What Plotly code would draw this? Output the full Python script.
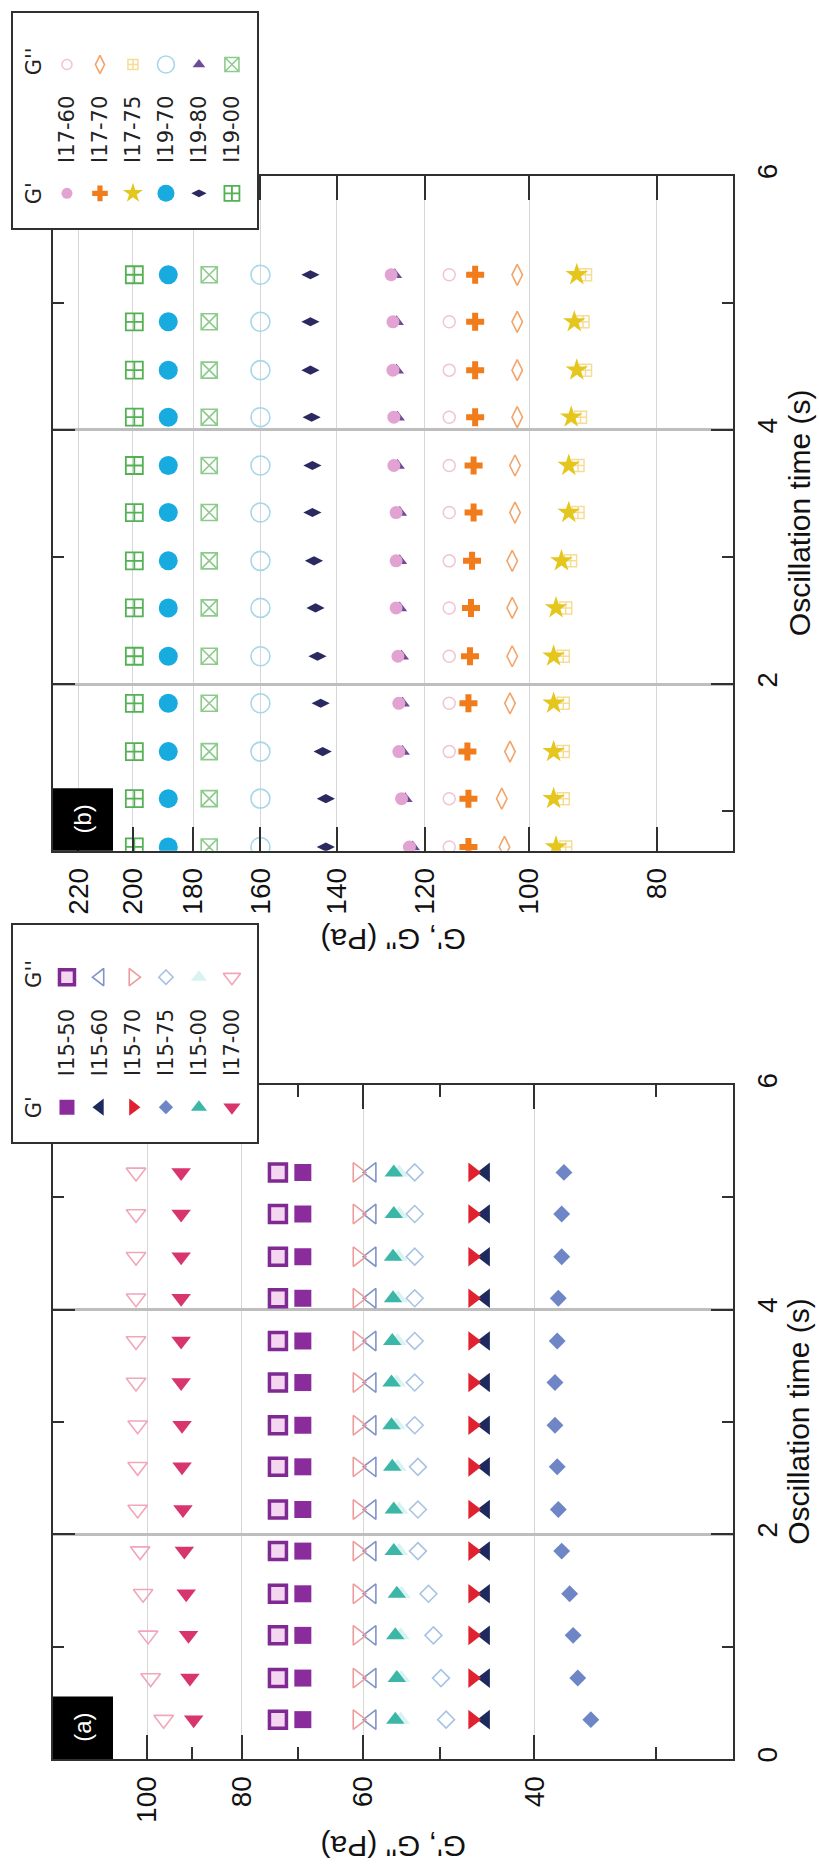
import numpy as np
import plotly.graph_objects as go

W, H = 819, 1876
FONT = "Liberation Sans, Arial, Helvetica, sans-serif"
LEG_FONT = "DejaVu Sans, Liberation Sans, sans-serif"

# ---------------- data ----------------
time_a = [0.35, 0.72, 1.10, 1.47, 1.85, 2.22, 2.60, 2.97, 3.35, 3.72, 4.10, 4.47, 4.85, 5.22]
time_b = [0.72, 1.10, 1.47, 1.85, 2.22, 2.60, 2.97, 3.35, 3.72, 4.10, 4.47, 4.85, 5.22]

# panel (a)
i15_50_gp = [69.2, 69.2, 69.2, 69.2, 69.2, 69.2, 69.2, 69.2, 69.2, 69.2, 69.2, 69.2, 69.2, 69.2]
i15_50_gpp = [73.4, 73.4, 73.4, 73.4, 73.4, 73.4, 73.4, 73.4, 73.4, 73.4, 73.4, 73.4, 73.4, 73.4]
i15_60_gp = [44.9, 44.9, 44.9, 44.9, 44.9, 44.9, 44.9, 44.9, 44.9, 44.9, 44.9, 44.9, 44.9, 44.9]
i15_60_gpp = [58.8, 58.8, 58.8, 58.8, 58.8, 58.8, 58.8, 58.8, 58.8, 58.8, 58.8, 58.8, 58.8, 58.8]
i15_70_gp = [46.3, 46.3, 46.3, 46.3, 46.3, 46.3, 46.3, 46.3, 46.3, 46.3, 46.3, 46.3, 46.3, 46.3]
i15_70_gpp = [60.8, 60.8, 60.8, 60.8, 60.8, 60.8, 60.8, 60.8, 60.8, 60.8, 60.8, 60.8, 60.8, 60.8]
i15_75_gp = [35.0, 36.1, 36.5, 36.8, 37.5, 37.8, 37.9, 38.1, 38.1, 37.9, 37.8, 37.5, 37.5, 37.3]
i15_75_gpp = [49.3, 49.9, 50.8, 51.4, 52.7, 52.7, 52.7, 53.1, 53.1, 53.1, 53.1, 53.1, 53.1, 53.1]
i15_00_gp = [55.6, 55.4, 55.6, 55.4, 55.8, 55.8, 56.0, 56.1, 56.1, 56.0, 55.9, 55.9, 55.8, 55.8]
i15_00_gpp = [54.9, 54.8, 54.9, 54.8, 55.1, 55.1, 55.3, 55.4, 55.4, 55.3, 55.2, 55.2, 55.1, 55.1]
i17_00_gp = [89.6, 90.4, 90.7, 91.2, 91.6, 91.9, 92.1, 92.1, 92.3, 92.3, 92.3, 92.3, 92.3, 92.3]
i17_00_gpp = [96.2, 99.2, 99.8, 101.0, 101.7, 102.3, 102.3, 102.3, 102.7, 102.7, 102.7, 102.7, 102.7, 102.7]

# panel (b)
i17_60_gp = [123.3, 125.0, 125.6, 125.6, 125.8, 126.2, 126.2, 126.2, 126.7, 126.7, 126.9, 126.9, 127.3]
i17_60_gpp = [115.0, 115.0, 115.0, 115.0, 115.0, 115.0, 115.0, 115.0, 115.0, 115.0, 115.0, 115.0, 115.0]
i17_70_gp = [111.2, 111.2, 111.4, 111.2, 110.9, 110.7, 110.5, 110.2, 110.2, 109.9, 109.9, 109.9, 109.9]
i17_70_gpp = [104.4, 104.9, 103.4, 103.4, 103.0, 103.0, 103.0, 102.5, 102.5, 102.1, 102.1, 102.1, 102.1]
i17_75_gp = [95.4, 95.8, 95.8, 95.8, 95.8, 95.4, 94.5, 93.3, 93.3, 92.9, 92.0, 92.4, 92.0]
i17_75_gpp = [93.8, 94.2, 94.2, 94.2, 94.2, 93.8, 93.0, 91.8, 91.8, 91.4, 90.6, 91.0, 90.6]
i19_70_gp = [188.0, 188.0, 188.0, 188.0, 188.0, 188.0, 188.0, 188.0, 188.0, 188.0, 188.0, 188.0, 188.0]
i19_70_gpp = [160.0, 160.0, 160.0, 160.0, 160.0, 160.0, 160.0, 160.0, 160.0, 160.0, 160.0, 160.0, 160.0]
i19_80_gp = [142.7, 142.7, 143.5, 144.0, 144.8, 145.3, 145.7, 146.1, 146.1, 146.3, 146.6, 146.6, 146.6]
i19_80_gpp = [122.6, 124.2, 124.8, 124.8, 125.0, 125.4, 125.4, 125.4, 125.9, 125.9, 126.1, 126.1, 126.5]
i19_00_gp = [199.5, 199.5, 199.5, 199.5, 199.5, 199.5, 199.5, 199.5, 199.5, 199.5, 199.5, 199.5, 199.5]
i19_00_gpp = [175.0, 175.0, 175.0, 175.0, 175.0, 175.0, 175.0, 175.0, 175.0, 175.0, 175.0, 175.0, 175.0]

labels_a = ["I15-50", "I15-60", "I15-70", "I15-75", "I15-00", "I17-00"]
labels_b = ["I17-60", "I17-70", "I17-75", "I19-70", "I19-80", "I19-00"]

time_ticks = [0, 2, 4, 6]
time_minor = [1, 3, 5]
g_ticks_a = [40, 60, 80, 100]
g_minor_a = [30, 50, 70, 90]
g_ticks_b = [80, 100, 120, 140, 160, 180, 200, 220]

# ---------------- styles ----------------
# (symbol, fill colour, size, line colour, line width)
style_a = {
    "I15-50": (("square", "#8B2C9C", 17, "#8B2C9C", 0), ("square", "#F4D6F0", 17, "#7E2A92", 3.5)),
    "I15-60": (("triangle-left", "#1E2A5E", 17, "#1E2A5E", 0), ("triangle-left-open", "#8194C9", 17, "#8194C9", 1.6)),
    "I15-70": (("triangle-right", "#E0212F", 17, "#E0212F", 0), ("triangle-right-open", "#EE9C9C", 17, "#EE9C9C", 1.6)),
    "I15-75": (("diamond", "#6E86C6", 13, "#6E86C6", 0), ("diamond-open", "#A8C3E3", 13, "#A8C3E3", 1.6)),
    "I15-00": (("triangle-up", "#3CB7A7", 16, "#3CB7A7", 0), ("triangle-up", "#D9F2F2", 16, "#D9F2F2", 0)),
    "I17-00": (("triangle-down", "#D8356E", 17, "#D8356E", 0), ("triangle-down-open", "#F1A6BA", 17, "#F1A6BA", 1.6)),
}
style_b = {
    "I17-60": (("circle", "#E3A3D2", 13, "#E3A3D2", 0), ("circle-open", "#F2C3D3", 12, "#F2C3D3", 1.5)),
    "I17-70": (("cross", "#F07C1B", 15, "#F07C1B", 0), ("diamond-tall-open", "#F2A46A", 15, "#F2A46A", 1.6)),
    "I17-75": (("star", "#E4C61C", 17, "#E4C61C", 0), ("square-cross-open", "#F6DC95", 12, "#F6DC95", 1.5)),
    "I19-70": (("circle", "#17ABE0", 19, "#17ABE0", 0), ("circle-open", "#A6D7EA", 19, "#A6D7EA", 1.6)),
    "I19-80": (("diamond-wide", "#2A2960", 13, "#2A2960", 0), ("triangle-up", "#6D4B96", 13, "#6D4B96", 0)),
    "I19-00": (("square-cross-open", "#52B152", 17, "#52B152", 1.8), ("square-x-open", "#8CCB8C", 16, "#8CCB8C", 1.6)),
}

series_a = [("I15-50", i15_50_gp, i15_50_gpp), ("I15-60", i15_60_gp, i15_60_gpp),
            ("I15-70", i15_70_gp, i15_70_gpp), ("I15-75", i15_75_gp, i15_75_gpp),
            ("I15-00", i15_00_gp, i15_00_gpp), ("I17-00", i17_00_gp, i17_00_gpp)]
series_b = [("I17-60", i17_60_gp, i17_60_gpp), ("I17-70", i17_70_gp, i17_70_gpp),
            ("I17-75", i17_75_gp, i17_75_gpp), ("I19-70", i19_70_gp, i19_70_gpp),
            ("I19-80", i19_80_gp, i19_80_gpp), ("I19-00", i19_00_gp, i19_00_gpp)]


def fx(px):
    return px / W


def fy(py):
    return 1 - py / H


PANEL_X = [fx(53), fx(733)]
A_Y = [fy(1762), fy(1082)]
B_Y = [fy(846), fy(165)]
LEG_X = [fx(13), fx(257)]
LEGB_Y = [fy(218), fy(1)]
LEGA_Y = [fy(1140), fy(921)]

fig = go.Figure()


def mk(sty):
    sym, col, size, lcol, lw = sty
    return dict(symbol=sym, color=col, size=size, line=dict(color=lcol, width=lw))


def add_panel(series, styles, times, xa, ya):
    for name, gp, gpp in series:
        s_p, s_pp = styles[name]
        fig.add_trace(go.Scatter(x=gpp, y=times, mode="markers", marker=mk(s_pp),
                                 xaxis=xa, yaxis=ya, showlegend=False, name=name + " G''"))
    for name, gp, gpp in series:
        s_p, s_pp = styles[name]
        fig.add_trace(go.Scatter(x=gp, y=times, mode="markers", marker=mk(s_p),
                                 xaxis=xa, yaxis=ya, showlegend=False, name=name + " G'"))


add_panel(series_a, style_a, time_a, "x", "y")
add_panel(series_b, style_b, time_b, "x2", "y2")

LEG_XR = [-0.636, 6.76]
LEG_YR = [-0.54, 2.8]
ANC = dict(xanchor="center", yanchor="middle", showarrow=False)


def add_legend(labels, styles, xa, ya):
    fig.add_trace(go.Scatter(x=[LEG_XR[0], LEG_XR[1], LEG_XR[1], LEG_XR[0], LEG_XR[0]],
                             y=[LEG_YR[0], LEG_YR[0], LEG_YR[1], LEG_YR[1], LEG_YR[0]],
                             fill="toself", fillcolor="white", mode="lines",
                             line=dict(width=0, color="white"), hoverinfo="skip",
                             xaxis=xa, yaxis=ya, showlegend=False))
    for k, name in enumerate(labels, start=1):
        s_p, s_pp = styles[name]
        p = mk(s_p)
        pp = mk(s_pp)
        p["size"] = p["size"] - 2
        pp["size"] = pp["size"] - 2
        fig.add_trace(go.Scatter(x=[k], y=[0], mode="markers", marker=p,
                                 xaxis=xa, yaxis=ya, showlegend=False))
        fig.add_trace(go.Scatter(x=[k], y=[2], mode="markers", marker=pp,
                                 xaxis=xa, yaxis=ya, showlegend=False))
        fig.add_annotation(x=k, y=1, xref=xa, yref=ya, text=name, textangle=-90,
                           font=dict(family=LEG_FONT, size=21, color="#222"), **ANC)
    fig.add_annotation(x=0, y=0, xref=xa, yref=ya, text="G'", textangle=-90,
                       font=dict(family=LEG_FONT, size=21, color="#222"), **ANC)
    fig.add_annotation(x=0, y=2.05, xref=xa, yref=ya, text="G''", textangle=-90,
                       font=dict(family=LEG_FONT, size=21, color="#222"), **ANC)


add_legend(labels_b, style_b, "x3", "y3")
add_legend(labels_a, style_a, "x4", "y4")

LINE = "#303030"
g_axis_common = dict(type="log", showline=True, linecolor=LINE, linewidth=2, mirror="ticks",
                     ticks="inside", ticklen=24, tickwidth=2, tickcolor=LINE,
                     tickangle=-90, tickfont=dict(family=FONT, size=28, color="#111"),
                     showgrid=True, gridcolor="#D6D6D6", gridwidth=1, zeroline=False,
                     ticklabelstandoff=4)
t_axis_common = dict(showline=True, linecolor=LINE, linewidth=2, mirror="ticks",
                     ticks="inside", ticklen=22, tickwidth=2, tickcolor=LINE,
                     side="right", tickangle=-90, tickfont=dict(family=FONT, size=28, color="#111"),
                     showgrid=True, gridcolor="#BEBEBE", gridwidth=2.5, zeroline=False,
                     tickvals=time_ticks, ticktext=[str(v) for v in time_ticks],
                     minor=dict(tickvals=time_minor, ticklen=11, tickwidth=2, tickcolor=LINE,
                                ticks="inside", showgrid=False),
                     ticklabelstandoff=8)

leg_axis = dict(showline=True, mirror=True, linecolor=LINE, linewidth=1.5, showticklabels=False,
                ticks="", showgrid=False, zeroline=False, fixedrange=True)

fig.update_layout(
    width=W, height=H, margin=dict(l=0, r=0, t=0, b=0),
    paper_bgcolor="white", plot_bgcolor="white", showlegend=False,
    xaxis=dict(domain=PANEL_X, anchor="y",
               range=[np.log10(125), np.log10(25)],
               tickvals=g_ticks_a, ticktext=[str(v) for v in g_ticks_a],
               minor=dict(tickvals=g_minor_a, ticklen=12, tickwidth=2, tickcolor=LINE,
                          ticks="inside", showgrid=False),
               **g_axis_common),
    yaxis=dict(domain=A_Y, anchor="x", range=[0, 6], **t_axis_common),
    xaxis2=dict(domain=PANEL_X, anchor="y2",
                range=[np.log10(230), np.log10(70)],
                tickvals=g_ticks_b, ticktext=[str(v) for v in g_ticks_b],
                **g_axis_common),
    yaxis2=dict(domain=B_Y, anchor="x2", range=[0.69, 6], **t_axis_common),
    xaxis3=dict(domain=LEG_X, anchor="y3", range=LEG_XR, **leg_axis),
    yaxis3=dict(domain=LEGB_Y, anchor="x3", range=LEG_YR, **leg_axis),
    xaxis4=dict(domain=LEG_X, anchor="y4", range=LEG_XR, **leg_axis),
    yaxis4=dict(domain=LEGA_Y, anchor="x4", range=LEG_YR, **leg_axis),
)

# panel tags (a), (b)
for tag, ydom in (("(a)", A_Y), ("(b)", B_Y)):
    x0 = PANEL_X[0]
    x1 = fx(113)
    y0 = ydom[0]
    y1 = ydom[0] + 63 / H
    fig.add_shape(type="rect", xref="paper", yref="paper", x0=x0, x1=x1, y0=y0, y1=y1,
                  fillcolor="black", line=dict(width=0), layer="above")
    fig.add_annotation(xref="paper", yref="paper", x=(x0 + x1) / 2, y=(y0 + y1) / 2, text=tag,
                       textangle=-90, font=dict(family=FONT, size=24, color="white"), **ANC)

# axis titles
xc = (PANEL_X[0] + PANEL_X[1]) / 2
for ydom, ty in ((A_Y, fy(1851)), (B_Y, fy(936))):
    fig.add_annotation(xref="paper", yref="paper", x=xc, y=ty, text="G', G'' (Pa)", textangle=180,
                       font=dict(family=FONT, size=30, color="#111"), **ANC)
    fig.add_annotation(xref="paper", yref="paper", x=fx(799), y=(ydom[0] + ydom[1]) / 2,
                       text="Oscillation time (s)", textangle=-90,
                       font=dict(family=FONT, size=30, color="#111"), **ANC)

fig.write_html("out.html")
